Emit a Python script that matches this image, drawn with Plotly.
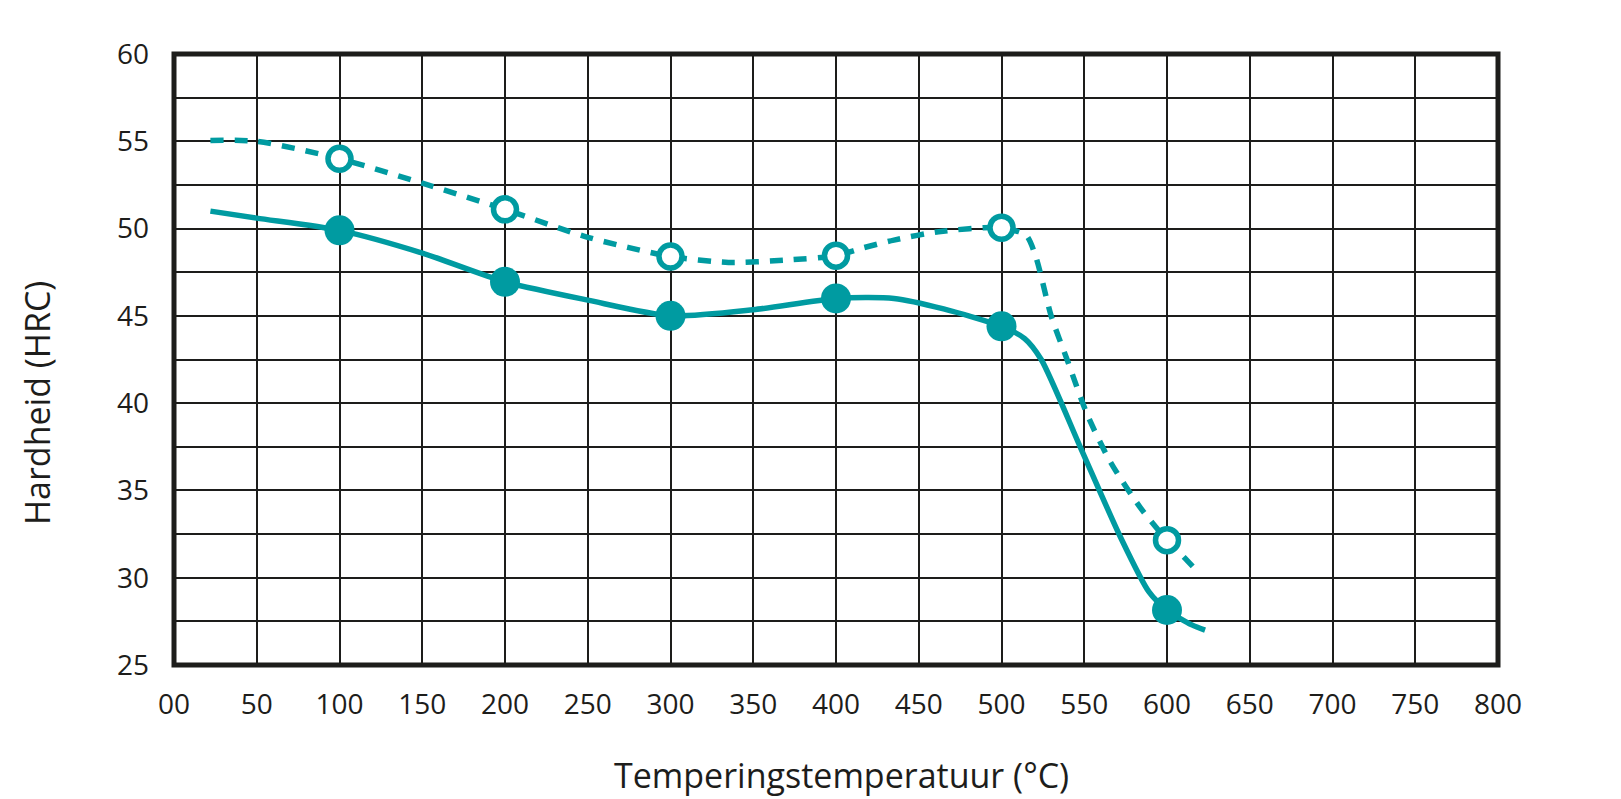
import plotly.graph_objects as go

# Curve (solid line, filled markers)
solid_x = [22, 50, 100, 150, 200, 250, 300, 350, 400, 435, 465, 500, 514, 524, 548, 572, 589, 600, 615, 623]
solid_y = [51.0, 50.6, 49.9, 48.6, 46.95, 45.9, 45.0, 45.35, 46.0, 46.0, 45.4, 44.4, 43.7, 42.5, 37.4, 32.3, 29.2, 28.15, 27.3, 27.0]

# Curve (dashed line, open markers)
dash_x = [22, 50, 100, 150, 200, 250, 300, 335, 369, 400, 415, 435, 462, 500, 515, 521, 530, 540, 552, 566, 584, 600, 609, 619]
dash_y = [55.05, 55.0, 54.0, 52.6, 51.1, 49.5, 48.4, 48.06, 48.19, 48.45, 48.86, 49.34, 49.82, 50.05, 49.6, 48.3, 45.0, 42.4, 39.3, 36.6, 34.0, 32.15, 31.3, 30.3]

# Measured points
pts_x = [100, 200, 300, 400, 500, 600]
solid_pts = [49.9, 46.95, 45.0, 46.0, 44.4, 28.15]
open_pts = [54.0, 51.1, 48.4, 48.45, 50.05, 32.15]

x_ticks = list(range(0, 801, 50))
x_labels = ["00"] + [str(v) for v in x_ticks[1:]]
y_ticks = [25, 30, 35, 40, 45, 50, 55, 60]

teal = "#009BA1"
ink = "#1d1d1b"
font_family = "Open Sans"

fig = go.Figure()
fig.add_trace(go.Scatter(x=dash_x, y=dash_y, mode="lines",
                         line=dict(color=teal, width=5.5, dash="13px,11px", shape="spline", smoothing=0.7),
                         hoverinfo="skip", showlegend=False))
fig.add_trace(go.Scatter(x=solid_x, y=solid_y, mode="lines",
                         line=dict(color=teal, width=5.5, shape="spline", smoothing=0.7),
                         hoverinfo="skip", showlegend=False))
fig.add_trace(go.Scatter(x=pts_x, y=open_pts, mode="markers",
                         marker=dict(size=23, color="white", line=dict(color=teal, width=5.5)),
                         showlegend=False))
fig.add_trace(go.Scatter(x=pts_x, y=solid_pts, mode="markers",
                         marker=dict(size=30, color=teal, line=dict(width=0)),
                         showlegend=False))

fig.update_layout(
    width=1621, height=799,
    margin=dict(l=166, r=131, t=46, b=142),
    paper_bgcolor="white", plot_bgcolor="white",
    font=dict(family=font_family, color=ink),
    xaxis=dict(range=[0, 800], tickvals=x_ticks, ticktext=x_labels,
               showgrid=True, gridcolor=ink, gridwidth=2, zeroline=False,
               showline=False, ticks="", ticklen=0,
               tickfont=dict(size=28, color=ink, family=font_family)),
    yaxis=dict(range=[25, 60], tickvals=y_ticks,
               showgrid=True, gridcolor=ink, gridwidth=2, zeroline=False,
               showline=False, ticks="", ticklen=0,
               minor=dict(dtick=2.5, showgrid=True, gridcolor=ink, gridwidth=2),
               tickfont=dict(size=28, color=ink, family=font_family)),
    shapes=[dict(type="rect", xref="paper", yref="paper", x0=0, x1=1, y0=0, y1=1,
                 line=dict(color=ink, width=5), fillcolor="rgba(0,0,0,0)", layer="above")],
    annotations=[
        dict(text="Temperingstemperatuur (°C)", xref="paper", yref="paper",
             x=(833 - 166) / (1621 - 166 - 131), y=0, yshift=-110,
             xanchor="center", yanchor="middle", showarrow=False,
             font=dict(size=34, color=ink, family=font_family)),
        dict(text="Hardheid (HRC)", xref="paper", yref="paper",
             x=0, xshift=-(166 - 29), y=(657 - 395) / 611,
             xanchor="center", yanchor="middle", textangle=-90, showarrow=False,
             font=dict(size=34, color=ink, family=font_family)),
    ],
)
fig.update_xaxes(ticklabelstandoff=20)
fig.update_yaxes(ticklabelstandoff=24)

fig.write_html("out.html")
